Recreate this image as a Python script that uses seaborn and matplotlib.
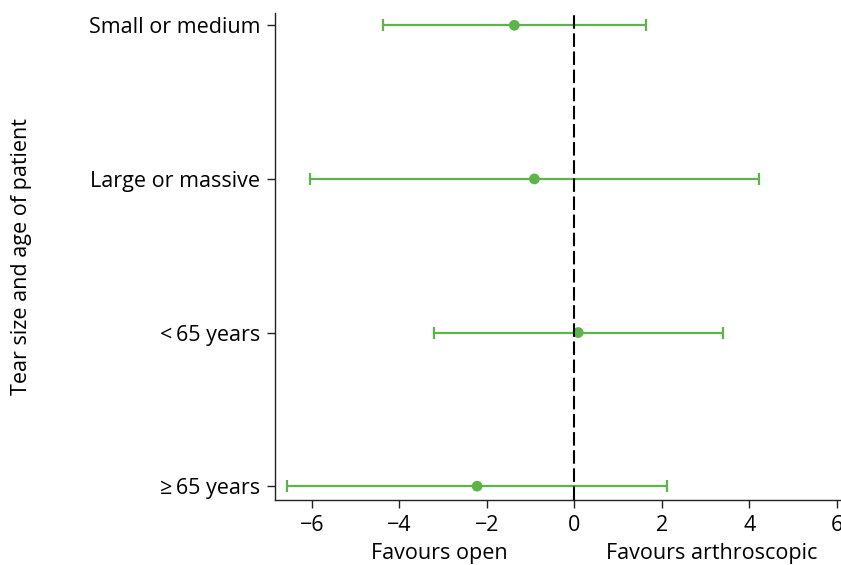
import matplotlib
matplotlib.use("Agg")
import matplotlib.pyplot as plt
import matplotlib.transforms as mtransforms
import seaborn as sns
import pandas as pd

# Subgroup estimates (mean difference with 95% CI)
groups = ["Small or medium", "Large or massive", "<\u200965 years", "\u2265\u200965 years"]
estimate = [-1.37, -0.91, 0.09, -2.22]
lower = [-4.37, -6.03, -3.20, -6.56]
upper = [1.65, 4.23, 3.41, 2.12]
xticks = [-6, -4, -2, 0, 2, 4, 6]
xtick_labels = ["\u22126", "\u22124", "\u22122", "0", "2", "4", "6"]

df = pd.DataFrame({"group": groups, "estimate": estimate,
                   "lower": lower, "upper": upper})

sns.set_theme(style="ticks")
plt.rcParams["font.family"] = ["Open Sans", "DejaVu Sans"]
plt.rcParams["text.color"] = "black"

green = "#5db449"
fs = 15.5

fig = plt.figure(figsize=(8.41, 5.65), dpi=100)
ax = fig.add_axes([275 / 841, 1 - 500 / 565, (1000 - 275) / 841, (500 - 13) / 565])

ypos = list(range(len(groups)))
ax.errorbar(df["estimate"], ypos,
            xerr=[df["estimate"] - df["lower"], df["upper"] - df["estimate"]],
            fmt="none", ecolor=green, elinewidth=1.6, capsize=4, capthick=1.6,
            zorder=2)
sns.scatterplot(data=df, x="estimate", y=ypos, color=green, s=60,
                edgecolor="none", ax=ax, zorder=3, legend=False)

ax.axvline(0, color="black", lw=1.5, dashes=(6.5, 2.2), zorder=4)

x_per_px = 12 / (837 - 312)
x0 = -6.84
ax.set_xlim(x0, x0 + (1000 - 275) * x_per_px)
ax.set_ylim(3.09, -0.08)
ax.set_yticks(ypos)
ax.set_yticklabels(groups)
ax.set_xticks(xticks)
ax.set_xticklabels(xtick_labels)

ax.tick_params(axis="both", labelsize=fs, length=5.5, width=1.0, color="#222222",
               pad=5, labelcolor="black")
for side in ["top", "right"]:
    ax.spines[side].set_visible(False)
for side in ["left", "bottom"]:
    ax.spines[side].set_linewidth(1.0)
    ax.spines[side].set_color("#222222")

ax.set_xlabel("")
ax.set_ylabel("Tear size and age of patient", fontsize=fs, color="black")
ax.yaxis.set_label_coords((22 - 275) / 725, 0.5)
ax.yaxis.label.set_va("center")

trans = mtransforms.blended_transform_factory(ax.transData, fig.transFigure)
ax.text(-3.08, 1 - 553 / 565, "Favours open", transform=trans,
        ha="center", va="center", fontsize=fs)
ax.text(3.13, 1 - 553 / 565, "Favours arthroscopic", transform=trans,
        ha="center", va="center", fontsize=fs)

fig.savefig("out.png", dpi=100)
